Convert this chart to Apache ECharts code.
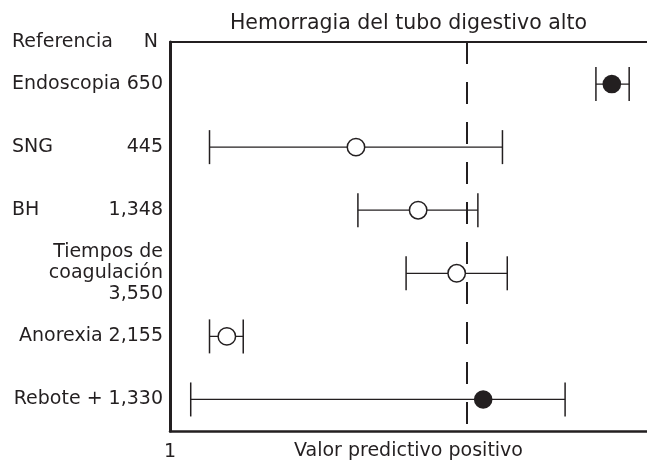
<!DOCTYPE html>
<html>
<head>
<meta charset="utf-8">
<script src="https://cdn.jsdelivr.net/npm/echarts@6/dist/echarts.min.js"></script>
<style>html,body{margin:0;padding:0;background:#fff}#c{width:647px;height:462px}</style>
</head>
<body>
<div id="c"></div>
<script>
// ---- data ----
const studies = ['Endoscopia', 'SNG', 'BH', 'Tiempos de\ncoagulación', 'Anorexia', 'Rebote +'];
const nValues = ['650', '445', '1,348', '3,550', '2,155', '1,330'];
const lower = [89.4, 9.2, 40.0, 50.0, 9.2, 5.3];
const estimate = [92.7, 39.6, 52.5, 60.5, 12.8, 66.0];
const upper = [96.3, 70.0, 64.9, 71.0, 16.2, 83.0];
const filledMarker = [true, false, false, false, false, true];
const referenceValue = 62.6;
const xTickLabels = ['1'];
const headerLabels = ['Referencia', 'N'];
const chartTitle = 'Hemorragia del tubo digestivo alto';
const xTitle = 'Valor predictivo positivo';

// ---- chart ----
const INK = '#231f20';
const FONT = 'DejaVu Sans';
const rows = studies.map((s, i) => [i, lower[i], estimate[i], upper[i], filledMarker[i] ? 1 : 0]);

function renderItem(params, api) {
  const yi = api.value(0);
  const pLo = api.coord([api.value(1), yi]);
  const pPt = api.coord([api.value(2), yi]);
  const pHi = api.coord([api.value(3), yi]);
  const filled = api.value(4) === 1;
  const h = 17;
  const ls = { stroke: INK, lineWidth: 1.3 };
  return {
    type: 'group',
    children: [
      { type: 'line', shape: { x1: pLo[0], y1: pLo[1], x2: pHi[0], y2: pHi[1] }, style: ls },
      { type: 'line', shape: { x1: pLo[0], y1: pLo[1] - h, x2: pLo[0], y2: pLo[1] + h }, style: { stroke: INK, lineWidth: 1.5 } },
      { type: 'line', shape: { x1: pHi[0], y1: pHi[1] - h, x2: pHi[0], y2: pHi[1] + h }, style: { stroke: INK, lineWidth: 1.5 } },
      { type: 'circle', shape: { cx: pPt[0], cy: pPt[1], r: filled ? 9.3 : 8.7 },
        style: { fill: filled ? INK : '#fff', stroke: INK, lineWidth: filled ? 0 : 1.5 } }
    ]
  };
}

const yMin = -2 / 3;
const chart = echarts.init(document.getElementById('c'), null, { renderer: 'canvas' });
chart.setOption({
  animation: false,
  textStyle: { fontFamily: FONT, color: INK },
  grid: { left: 170, right: 0, top: 42, bottom: 31, containLabel: false, outerBoundsMode: 'none' },
  xAxis: [
    {
      type: 'value', position: 'bottom', min: 1, max: 100,
      axisLine: { show: true, onZero: false, lineStyle: { color: INK, width: 2.5 } },
      axisTick: { show: false }, splitLine: { show: false },
      axisLabel: { customValues: [1], formatter: (v) => xTickLabels[0], fontSize: 19, color: INK, fontFamily: FONT, margin: 12 },
      name: xTitle, nameLocation: 'middle', nameGap: 11, nameMoveOverlap: false,
      nameTextStyle: { fontSize: 19, color: INK, fontFamily: FONT, verticalAlign: 'top' }
    },
    {
      type: 'value', position: 'top', min: 1, max: 100,
      axisLine: { show: true, onZero: false, lineStyle: { color: INK, width: 2 } },
      axisTick: { show: false }, splitLine: { show: false }, axisLabel: { show: false },
      name: chartTitle, nameLocation: 'middle', nameGap: 8, nameMoveOverlap: false,
      nameTextStyle: { fontSize: 20.5, color: INK, fontFamily: FONT, verticalAlign: 'bottom' }
    }
  ],
  yAxis: {
    type: 'value', inverse: true, min: yMin, max: 5.5,
    axisLine: { show: true, onZero: false, lineStyle: { color: INK, width: 3 } },
    axisTick: { show: false }, splitLine: { show: false },
    axisLabel: {
      customValues: [yMin, 0, 1, 2, 3, 4, 5],
      margin: 7, fontSize: 19, color: INK, fontFamily: FONT, lineHeight: 21, align: 'right',
      formatter: (v) => {
        if (v < -0.5) return '{h|' + headerLabels[0] + '}{hn|' + headerLabels[1] + '}';
        const i = Math.round(v);
        if (i === 1 || i === 2) return '{a|' + studies[i] + '}{b|' + nValues[i] + '}';
        if (studies[i].indexOf('\n') >= 0) return studies[i] + '\n' + nValues[i];
        return studies[i] + ' ' + nValues[i];
      },
      rich: {
        h: { width: 96, align: 'left', fontSize: 19, fontFamily: FONT, color: INK },
        hn: { width: 50, align: 'right', padding: [0, 5, 0, 0], fontSize: 19, fontFamily: FONT, color: INK },
        a: { width: 96, align: 'left', fontSize: 19, fontFamily: FONT, color: INK },
        b: { width: 55, align: 'right', fontSize: 19, fontFamily: FONT, color: INK }
      }
    }
  },
  series: [{
    type: 'custom',
    renderItem: renderItem,
    encode: { x: [1, 2, 3], y: 0 },
    data: rows,
    z: 3,
    markLine: {
      silent: true, symbol: ['none', 'none'], label: { show: false },
      lineStyle: { color: INK, width: 2, type: [22, 18] },
      data: [{ xAxis: referenceValue }]
    }
  }]
});
</script>
</body>
</html>
